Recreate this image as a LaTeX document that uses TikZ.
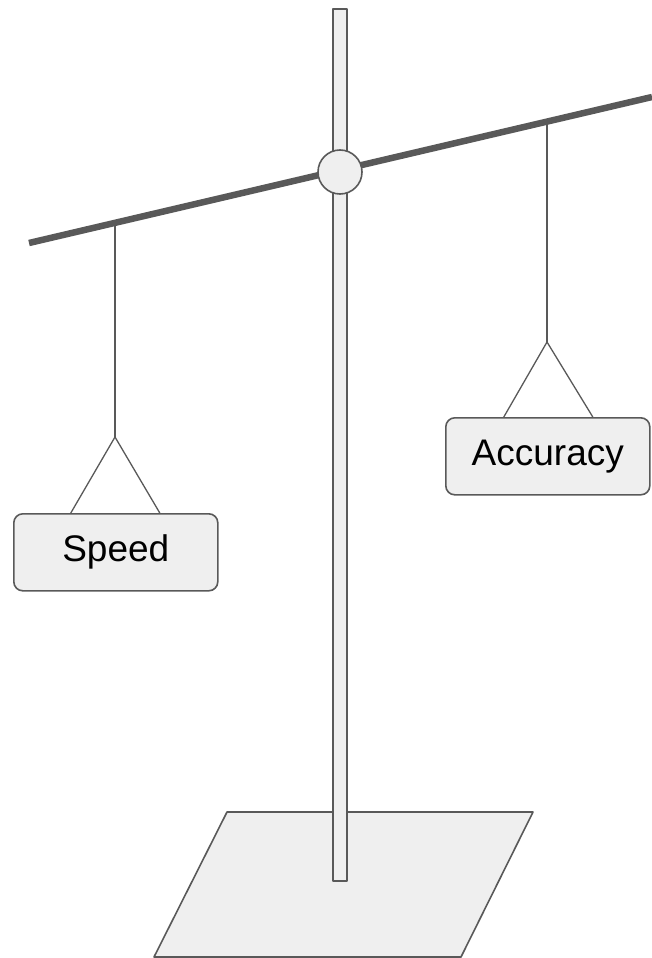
\documentclass[tikz,border=0pt]{standalone}
\usepackage{fontspec}
\setmainfont{Liberation Sans}
\usetikzlibrary{positioning}

\definecolor{edgegray}{HTML}{595959}
\definecolor{fillgray}{HTML}{EFEFEF}

\tikzset{
  part/.style={draw=edgegray,fill=fillgray,line width=1.6pt,line join=round},
  weight/.style={part,rounded corners=9pt,minimum width=204pt,minimum height=77pt,
    inner sep=0pt,font=\fontsize{37}{44}\selectfont},
  cord/.style={draw=edgegray,line width=1.3pt},
}

\begin{document}
\begin{tikzpicture}[x=1pt,y=-1pt,line cap=butt]
  \useasboundingbox (0,0) rectangle (652,958);
  % stand
  \draw[part] (227,812) -- (533,812) -- (461,957) -- (154,957) -- cycle;
  \draw[part] (333,9) rectangle (347,881);
  % beam and pivot
  \coordinate (beamL) at (29,243);
  \coordinate (beamR) at (652,97);
  \draw[edgegray,line width=6.5pt] (beamL) -- (beamR);
  \node[part,circle,minimum size=44pt,inner sep=0pt] (pivot) at (340,172) {};
  % weights
  \node[weight,anchor=north west] (speed) at (13,513) {Speed};
  \node[weight,anchor=north west] (accuracy) at (445,417) {Accuracy};
  \coordinate (topL) at (115,222.8);
  \coordinate (knotL) at (115,437);
  \coordinate (topR) at (547,121.6);
  \coordinate (knotR) at (547,342);
  \draw[cord] (topL) -- (knotL);
  \draw[cord] ([xshift=-45pt]speed.north) -- (knotL) -- ([xshift=44pt]speed.north);
  \draw[cord] (topR) -- (knotR);
  \draw[cord] ([xshift=-44pt]accuracy.north) -- (knotR) -- ([xshift=45pt]accuracy.north);
\end{tikzpicture}
\end{document}
